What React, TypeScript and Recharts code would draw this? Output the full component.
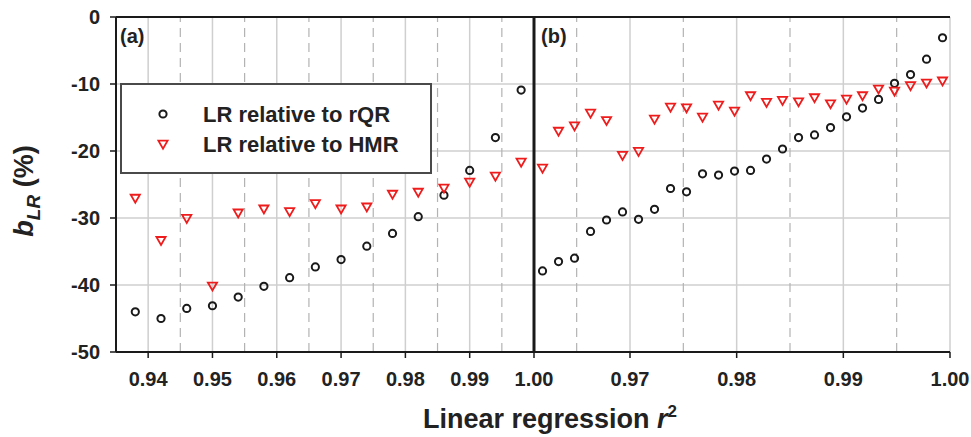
import React from 'react';
import { ScatterChart, Scatter, XAxis, YAxis, CartesianGrid, ReferenceLine } from 'recharts';

const FONT = '"Liberation Sans", Arial, sans-serif';
const INK = '#1a1a1a';
const RED = '#ee1c1c';

// panel (a)
const xA = [0.938, 0.942, 0.946, 0.950, 0.954, 0.958, 0.962, 0.966, 0.970, 0.974, 0.978, 0.982, 0.986, 0.990, 0.994, 0.998];
const rqrA = [-44.0, -45.0, -43.5, -43.1, -41.8, -40.2, -38.9, -37.3, -36.2, -34.2, -32.3, -29.8, -26.6, -22.9, -18.0, -10.9];
const hmrA = [-27.1, -33.4, -30.1, -40.2, -29.3, -28.7, -29.1, -27.9, -28.7, -28.4, -26.5, -26.2, -25.6, -24.7, -23.8, -21.7];

// panel (b)
const xB = [0.9618, 0.9633, 0.9648, 0.9663, 0.9678, 0.9693, 0.9708, 0.9723, 0.9738, 0.9753, 0.9768, 0.9783, 0.9798,
  0.9813, 0.9828, 0.9843, 0.9858, 0.9873, 0.9888, 0.9903, 0.9918, 0.9933, 0.9948, 0.9963, 0.9978, 0.9993];
const rqrB = [-37.9, -36.5, -36.0, -32.0, -30.3, -29.1, -30.2, -28.7, -25.6, -26.1, -23.4, -23.6, -23.0,
  -22.9, -21.2, -19.7, -18.0, -17.6, -16.5, -14.9, -13.6, -12.3, -9.9, -8.6, -6.3, -3.1];
const hmrB = [-22.6, -17.1, -16.3, -14.4, -15.5, -20.7, -20.1, -15.3, -13.5, -13.6, -15.0, -13.2, -14.1,
  -11.8, -12.8, -12.5, -12.7, -12.1, -13.0, -12.3, -11.8, -10.8, -11.1, -10.3, -9.9, -9.6];

// axes
const xDomainA = [0.935, 1.0];
const xDomainB = [0.961, 1.0];
const xTicksA = [0.94, 0.95, 0.96, 0.97, 0.98, 0.99, 1.0];
const xMinorA = [0.945, 0.955, 0.965, 0.975, 0.985, 0.995];
const xTicksB = [0.97, 0.98, 0.99, 1.0];
const xMinorB = [0.965, 0.975, 0.985, 0.995];
const yTicks = [-50, -40, -30, -20, -10, 0];
const yTicksAll = [-50, -45, -40, -35, -30, -25, -20, -15, -10, -5, 0];

const seriesNames = ['LR relative to rQR', 'LR relative to HMR'];

const toPoints = (xs: number[], ys: number[]) => xs.map((x, i) => ({ x, y: ys[i] }));

const OpenCircle = (p: any) => (
  <circle cx={p.cx} cy={p.cy} r={3.6} fill="none" stroke={INK} strokeWidth={2} />
);

const OpenTriangle = (p: any) => (
  <polygon
    points={`${p.cx - 4.6},${p.cy - 3.8} ${p.cx + 4.6},${p.cy - 3.8} ${p.cx},${p.cy + 4.2}`}
    fill="none" stroke={RED} strokeWidth={1.8} strokeLinejoin="miter" />
);

const fmt = (v: number) => v.toFixed(2);
const tickFont = { fill: '#222', fontSize: 20, fontWeight: 'bold', fontFamily: FONT };
const axisLine = { stroke: INK, strokeWidth: 2 };

const PanelA = () => (
  <ScatterChart width={560} height={437} margin={{ top: 17, right: 26, bottom: 55, left: 66 }}>
    <CartesianGrid stroke="#cfcfcf" strokeWidth={1.5} />
    {xMinorA.map(v => (
      <ReferenceLine key={v} x={v} stroke="#b3b3b3" strokeWidth={1.2} strokeDasharray="9 6" />
    ))}
    <XAxis type="number" dataKey="x" domain={xDomainA} ticks={xTicksA} tickFormatter={fmt}
      allowDataOverflow interval={0} height={30} tickSize={6} tickMargin={14}
      axisLine={axisLine} tickLine={{ stroke: INK, strokeWidth: 1.5 }} tick={tickFont} />
    <YAxis type="number" dataKey="y" domain={[-50, 0]} ticks={yTicks} allowDataOverflow interval={0}
      width={50} tickSize={6} tickMargin={10}
      axisLine={axisLine} tickLine={{ stroke: INK, strokeWidth: 1.5 }} tick={tickFont} />
    <ReferenceLine y={0} stroke={INK} strokeWidth={2} />
    <Scatter name={seriesNames[0]} data={toPoints(xA, rqrA)} shape={OpenCircle} isAnimationActive={false} />
    <Scatter name={seriesNames[1]} data={toPoints(xA, hmrA)} shape={OpenTriangle} isAnimationActive={false} />
  </ScatterChart>
);

const PanelB = () => (
  <ScatterChart width={463} height={437} margin={{ top: 17, right: 21, bottom: 55, left: 26 }}>
    <CartesianGrid stroke="#cfcfcf" strokeWidth={1.5} />
    {xMinorB.map(v => (
      <ReferenceLine key={v} x={v} stroke="#b3b3b3" strokeWidth={1.2} strokeDasharray="9 6" />
    ))}
    <XAxis type="number" dataKey="x" domain={xDomainB} ticks={xTicksB} tickFormatter={fmt}
      allowDataOverflow interval={0} height={30} tickSize={6} tickMargin={14}
      axisLine={axisLine} tickLine={{ stroke: INK, strokeWidth: 1.5 }} tick={tickFont} />
    <YAxis hide type="number" dataKey="y" domain={[-50, 0]} ticks={yTicks} allowDataOverflow interval={0} />
    <YAxis yAxisId="r" orientation="right" mirror width={0} type="number" domain={[-50, 0]}
      ticks={yTicksAll} interval={0} tick={false} tickSize={5}
      axisLine={axisLine} tickLine={{ stroke: INK, strokeWidth: 1.5 }} />
    <ReferenceLine y={0} stroke={INK} strokeWidth={2} />
    <ReferenceLine x={xDomainB[0]} stroke={INK} strokeWidth={3} ifOverflow="visible" />
    <Scatter name={seriesNames[0]} data={toPoints(xB, rqrB)} shape={OpenCircle} isAnimationActive={false} />
    <Scatter name={seriesNames[1]} data={toPoints(xB, hmrB)} shape={OpenTriangle} isAnimationActive={false} />
  </ScatterChart>
);

const Overlay = () => (
  <svg width={971} height={437} style={{ position: 'absolute', left: 0, top: 0, pointerEvents: 'none' }}
    fontFamily={FONT} fontWeight="bold">
    {/* legend */}
    <rect x={121} y={84} width={310} height={89} fill="#fff" stroke="#4a4a4a" strokeWidth={2} />
    <OpenCircle cx={163} cy={114} />
    <OpenTriangle cx={163} cy={144.5} />
    <text x={203} y={121.5} fontSize={22} fill="#222">{seriesNames[0]}</text>
    <text x={203} y={151.5} fontSize={22} fill="#222">{seriesNames[1]}</text>
    {/* panel letters */}
    <text x={120} y={43} fontSize={20} fill="#222">(a)</text>
    <text x={541} y={43} fontSize={20} fill="#222">(b)</text>
    {/* x title */}
    <text x={423} y={428} fontSize={27} fill="#222">
      Linear regression <tspan fontStyle="italic">r</tspan>
      <tspan fontSize={17} dy={-11}>2</tspan>
    </text>
    {/* y title */}
    <text transform="translate(33,191) rotate(-90)" textAnchor="middle" fontSize={27} fill="#222">
      <tspan fontStyle="italic">b</tspan>
      <tspan fontStyle="italic" fontSize={19} dy={7}>LR</tspan>
      <tspan dy={-7}> (%)</tspan>
    </text>
  </svg>
);

export default function App() {
  return (
    <div style={{ position: 'absolute', left: 0, top: 0, width: 971, height: 437, background: '#fff', overflow: 'hidden' }}>
      <div style={{ position: 'absolute', left: 0, top: 0 }}>
        <PanelA />
      </div>
      <div style={{ position: 'absolute', left: 508, top: 0 }}>
        <PanelB />
      </div>
      <Overlay />
    </div>
  );
}
